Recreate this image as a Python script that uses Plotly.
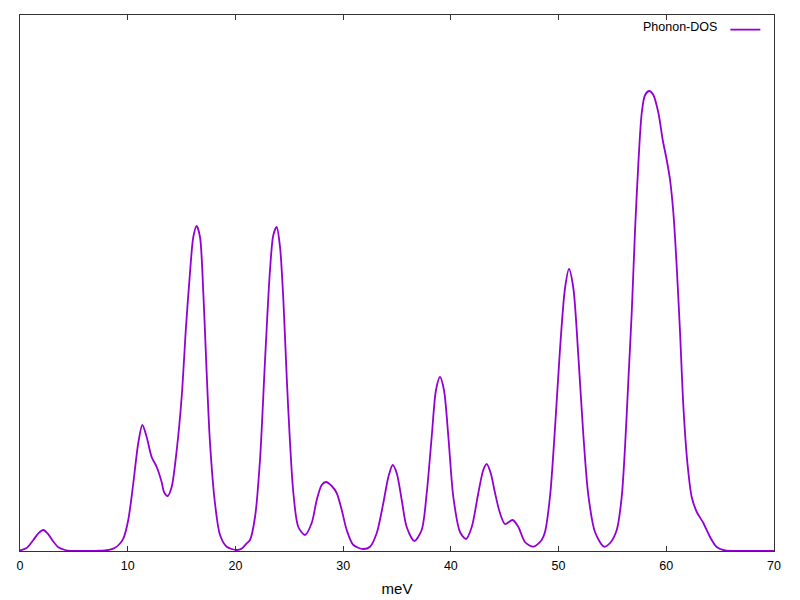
import plotly.graph_objects as go

energy_mev = [0, 0.62, 1.24, 1.7, 2.17, 2.63, 3.1, 3.56, 4.18, 4.8, 6.0, 7.43, 7.9, 8.36, 8.82,
              9.2, 9.6, 10.05, 10.52, 10.98, 11.36, 11.76, 12.22, 12.69, 13.15, 13.37, 13.71,
              14.08, 14.55, 15.01, 15.41, 15.78, 16.09, 16.4, 16.71, 17.02, 17.33, 17.64, 18.1,
              18.57, 19.19, 20.12, 20.6, 21.05, 21.35, 21.82, 22.28, 22.75, 23.21, 23.52, 23.83,
              24.14, 24.45, 24.76, 25.07, 25.38, 25.84, 26.46, 27.08, 27.55, 28.01, 28.41, 28.94,
              29.4, 29.87, 30.33, 30.95, 31.87, 32.5, 33.12, 33.73, 34.2, 34.6, 34.97, 35.44,
              35.9, 36.61, 37.29, 37.76, 38.22, 38.62, 38.99, 39.36, 39.77, 40.23, 40.85, 41.41,
              41.94, 42.55, 43.01, 43.33, 43.7, 44.1, 44.56, 45.03, 45.74, 46.27, 46.88, 47.66,
              48.43, 48.74, 49.21, 49.67, 50.14, 50.6, 50.97, 51.37, 51.83, 52.3, 52.76, 53.38,
              54.22, 54.78, 55.4, 55.86, 56.17, 56.48, 56.79, 57.1, 57.41, 57.72, 58.03, 58.43,
              58.8, 59.27, 59.67, 60.04, 60.35, 60.66, 60.97, 61.28, 61.59, 61.96, 62.36, 62.83,
              63.44, 64.06, 64.68, 65.45, 66.5, 68, 70]
dos = [0.5, 3, 11, 17.7, 21, 16.7, 9.3, 3.7, 1, 0.2, 0.1, 0.3, 0.7, 1.3, 3.3,
       6.5, 12.7, 31, 68, 108, 126, 114, 94, 84, 69, 59, 55,
       64, 101, 154, 224, 278, 314, 325, 314, 258, 178, 108, 48,
       16, 4.3, 1, 2.5, 7.7, 11, 34, 91, 191, 281, 316, 324,
       304, 251, 174, 108, 58, 24, 16, 28, 51, 66, 69, 65,
       58, 41, 21, 6, 2, 4.3, 18, 48, 74, 86, 78, 51,
       24, 10, 21, 58, 114, 161, 174, 161, 114, 54, 19, 12,
       24, 58, 81, 87, 78, 58, 38, 27, 31, 24, 9, 4.3,
       11, 19, 55, 123, 203, 263, 282, 263, 196, 116, 56, 19,
       4.3, 8, 21, 54, 104, 171, 238, 321, 388, 438, 456, 460,
       456, 438, 411, 391, 371, 338, 284, 218, 144, 88, 54, 39,
       28, 14, 4, 0.5, 0.1, 0, 0]

x_ticks = [0, 10, 20, 30, 40, 50, 60, 70]
series_name = "Phonon-DOS"
x_label = "meV"

fig = go.Figure()
fig.add_trace(go.Scatter(
    x=energy_mev, y=dos, mode="lines", name=" ",
    line=dict(color="#9400D3", width=1.8, shape="spline", smoothing=0.8),
    showlegend=True,
))

fig.update_layout(
    width=792, height=592,
    margin=dict(l=12, r=26, t=7, b=49),
    paper_bgcolor="white", plot_bgcolor="white",
    font=dict(family="Liberation Sans, Arial, sans-serif", size=12.5, color="black"),
    legend=dict(
        x=1, xanchor="right", y=1, yanchor="top",
        bgcolor="rgba(0,0,0,0)",
        title=dict(text=series_name, side="left", font=dict(size=12.5)),
        itemwidth=30,
    ),
    xaxis=dict(
        range=[0, 70], tickvals=x_ticks, ticks="inside", ticklen=5,
        tickcolor="#333", showline=True, linecolor="#333", linewidth=1,
        mirror="ticks", showgrid=False, zeroline=False,
        ticklabelstandoff=3, automargin=False,
        title=dict(text=x_label, standoff=11),
    ),
    yaxis=dict(
        range=[0, 536], showticklabels=False, ticks="", automargin=False,
        showline=True, linecolor="#333", linewidth=1, mirror=True,
        showgrid=False, zeroline=False,
    ),
)

fig.write_html("out.html")
